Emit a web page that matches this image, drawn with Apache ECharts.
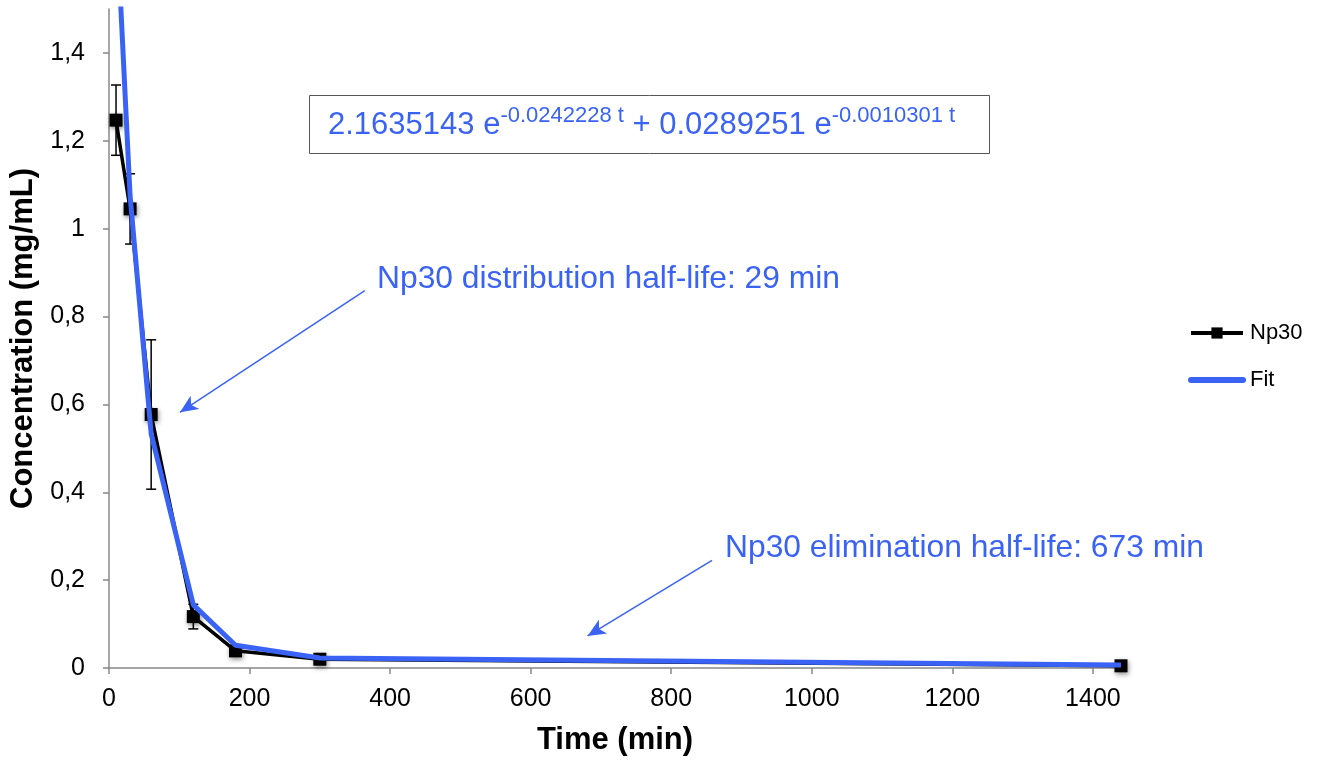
<!DOCTYPE html>
<html>
<head>
<meta charset="utf-8">
<script src="https://cdn.jsdelivr.net/npm/echarts@6/dist/echarts.min.js"></script>
<style>
  html, body { margin: 0; padding: 0; background: #fff; }
  #chart { width: 1323px; height: 760px; }
</style>
</head>
<body>
<div id="chart"></div>
<script>
var times = [10, 30, 60, 120, 180, 300, 1440]
var conc = [1.247, 1.045, 0.577, 0.117, 0.039, 0.020, 0.005]
var concErr = [0.08, 0.08, 0.17, 0.028, 0.008, 0.004, 0.002]
var fitValues = [1.7267, 1.0742, 0.5330, 0.1438, 0.0517, 0.0227, 0.0066]
var xTicks = [0, 200, 400, 600, 800, 1000, 1200, 1400]
var yTicks = [0, 0.2, 0.4, 0.6, 0.8, 1, 1.2, 1.4]
// annotation arrows: [from, to] in data units
var arrows = [
  [[364, 0.859], [101, 0.582]],
  [[858, 0.245], [681, 0.073]]
]

var blue = '#3a63f5'
var font = 'Liberation Sans, Arial, sans-serif'

var chart = echarts.init(document.getElementById('chart'))

var option = {
  animation: false,
  backgroundColor: '#fff',
  textStyle: { fontFamily: font },
  grid: { left: 109, right: 202, top: 9, bottom: 92, containLabel: false, outerBoundsMode: 'none' },
  legend: {
    orient: 'vertical',
    left: 1188,
    top: 322,
    padding: 0,
    itemWidth: 52,
    itemHeight: 14,
    itemGap: 25,
    textStyle: { fontSize: 22, color: '#000', fontFamily: font, padding: [0, 0, 0, 2] },
    data: [
      { name: 'Np30', lineStyle: { width: 4 } },
      { name: 'Fit', itemStyle: { opacity: 0 }, lineStyle: { width: 6, cap: 'round' } }
    ]
  },
  xAxis: {
    type: 'value',
    min: 0,
    max: 1440,
    name: 'Time (min)',
    nameLocation: 'middle',
    nameGap: 57,
    nameTextStyle: { fontSize: 31, fontWeight: 'bold', color: '#000', fontFamily: font },
    axisLine: { lineStyle: { color: '#888', width: 1.5 } },
    axisTick: { length: 6, lineStyle: { color: '#888', width: 1.5 }, customValues: xTicks },
    axisLabel: {
      fontSize: 25, color: '#000', margin: 19, customValues: xTicks,
      formatter: function (v) { return String(v) }
    },
    splitLine: { show: false }
  },
  yAxis: {
    type: 'value',
    min: 0,
    max: 1.5,
    name: 'Concentration (mg/mL)',
    nameLocation: 'middle',
    nameGap: 62,
    nameTextStyle: { fontSize: 31, fontWeight: 'bold', color: '#000', fontFamily: font },
    axisLine: { show: true, lineStyle: { color: '#888', width: 1.5 } },
    axisTick: { show: true, length: 6, lineStyle: { color: '#888', width: 1.5 }, customValues: yTicks },
    axisLabel: {
      fontSize: 25, color: '#000', margin: 24, customValues: yTicks,
      formatter: function (v) { return String(Math.round(v * 10) / 10).replace('.', ',') }
    },
    splitLine: { show: false }
  },
  series: [
    {
      name: 'Np30',
      type: 'line',
      data: times.map(function (t, i) { return [t, conc[i]] }),
      symbol: 'rect',
      symbolSize: 13,
      lineStyle: { color: '#000', width: 3.5 },
      itemStyle: {
        color: '#000',
        shadowBlur: 5,
        shadowColor: 'rgba(0,0,0,0.45)',
        shadowOffsetX: 1,
        shadowOffsetY: 2
      },
      z: 3
    },
    {
      name: 'err',
      type: 'custom',
      data: times.map(function (t, i) { return [t, conc[i] - concErr[i], conc[i] + concErr[i]] }),
      renderItem: function (params, api) {
        var lo = api.coord([api.value(0), api.value(1)])
        var hi = api.coord([api.value(0), api.value(2)])
        var w = 5
        var st = { stroke: '#000', lineWidth: 1.5 }
        return {
          type: 'group',
          children: [
            { type: 'line', shape: { x1: lo[0], y1: lo[1], x2: hi[0], y2: hi[1] }, style: st },
            { type: 'line', shape: { x1: lo[0] - w, y1: lo[1], x2: lo[0] + w, y2: lo[1] }, style: st },
            { type: 'line', shape: { x1: hi[0] - w, y1: hi[1], x2: hi[0] + w, y2: hi[1] }, style: st }
          ]
        }
      },
      z: 2
    },
    {
      name: 'Fit',
      type: 'line',
      data: times.map(function (t, i) { return [t, fitValues[i]] }),
      symbol: 'none',
      lineStyle: { color: blue, width: 5 },
      itemStyle: { color: blue },
      z: 4,
      markLine: {
        silent: true,
        symbol: ['none', 'arrow'],
        symbolSize: [12, 18],
        label: { show: false },
        lineStyle: { color: blue, width: 1.5, type: 'solid' },
        data: arrows.map(function (a) { return [{ coord: a[0] }, { coord: a[1] }] })
      }
    }
  ],
  graphic: [
    {
      type: 'rect',
      left: 309,
      top: 95,
      shape: { width: 680, height: 58 },
      style: { fill: '#fff', stroke: '#555', lineWidth: 1 },
      z: 10
    },
    {
      type: 'text',
      left: 328,
      top: 105,
      z: 11,
      style: {
        text: '{n|2.1635143 e}{s|-0.0242228 t}{n| + 0.0289251 e}{s|-0.0010301 t}',
        rich: {
          n: { fontSize: 31, fill: blue, fontFamily: font, lineHeight: 36, verticalAlign: 'bottom' },
          s: { fontSize: 22, fill: blue, fontFamily: font, lineHeight: 22, verticalAlign: 'top' }
        }
      }
    },
    {
      type: 'text',
      left: 377,
      top: 263,
      z: 11,
      style: { text: 'Np30 distribution half-life: 29 min', fontSize: 31.8, fill: blue, fontFamily: font }
    },
    {
      type: 'text',
      left: 725,
      top: 532,
      z: 11,
      style: { text: 'Np30 elimination half-life: 673 min', fontSize: 31.8, fill: blue, fontFamily: font }
    }
  ]
}

chart.setOption(option)
</script>
</body>
</html>
